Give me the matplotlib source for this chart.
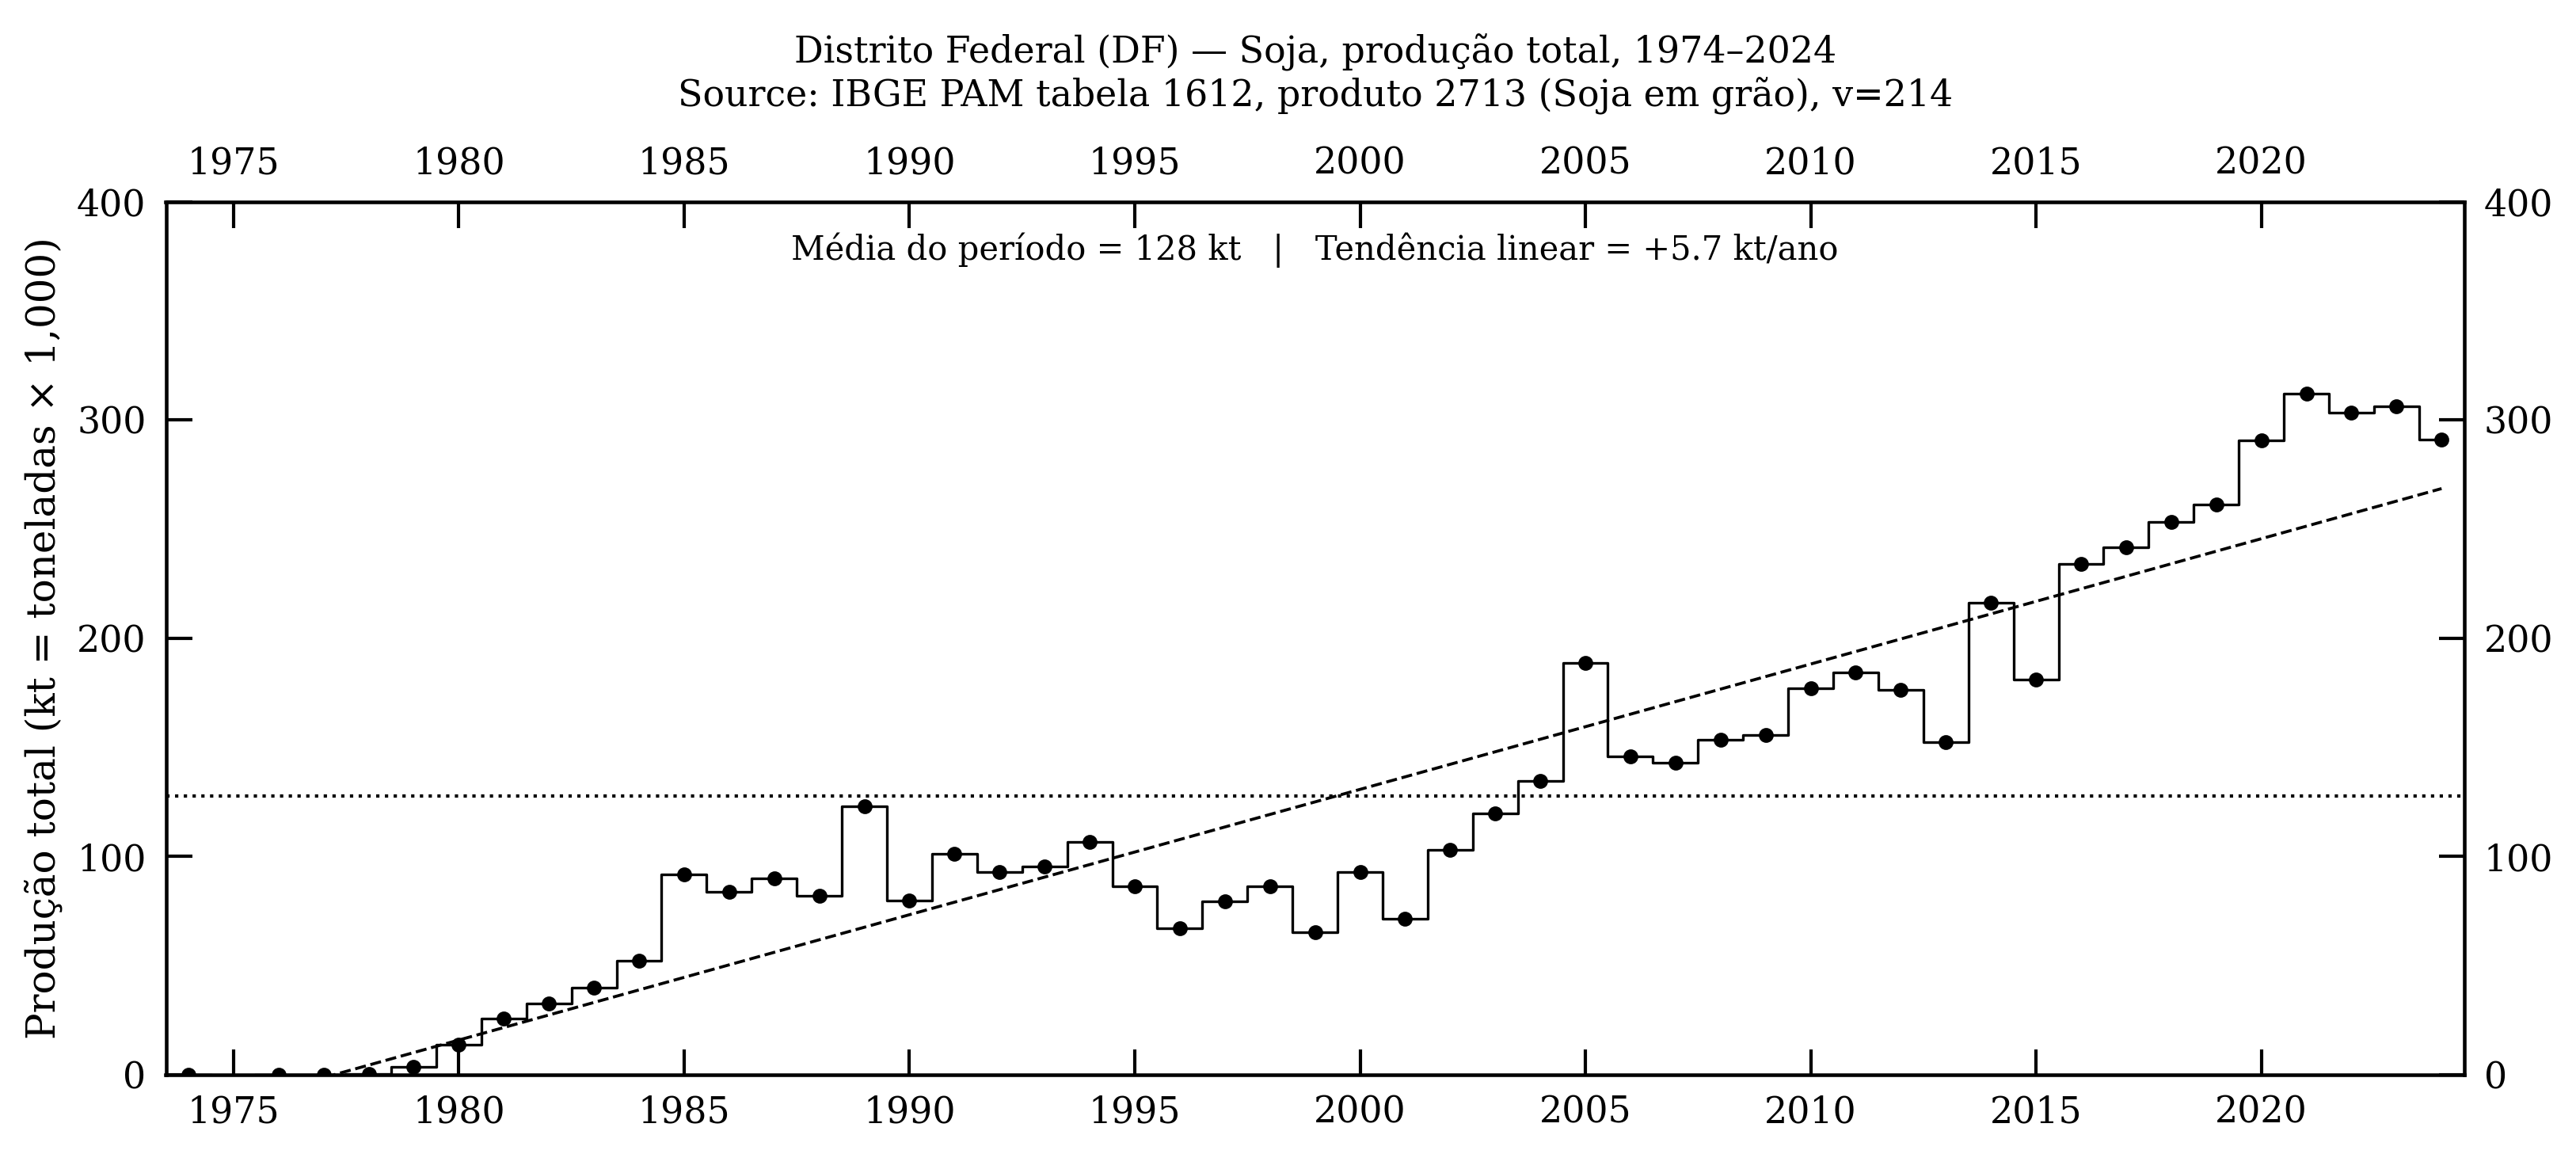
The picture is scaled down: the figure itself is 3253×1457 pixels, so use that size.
import numpy as np
import matplotlib
matplotlib.use("Agg")
import matplotlib.pyplot as plt

plt.rcParams['font.family'] = ['DejaVu Serif']

years = list(range(1974, 2025))
producao_kt = [
    0.0, np.nan, 0.0, 0.0, 0.5, 3.6, 13.8, 25.8, 32.8, 39.9, 52.2,
    91.8, 83.8, 89.9, 82.0, 122.9, 79.7, 101.4, 92.9, 95.5, 106.6,
    86.3, 67.0, 79.5, 86.3, 65.4, 92.7, 71.3, 103.0, 119.7, 134.7,
    188.7, 145.8, 142.9, 153.5, 155.8, 177.0, 184.3, 176.3, 152.3, 216.2,
    180.9, 234.0, 241.6, 253.2, 261.2, 290.7, 312.0, 303.2, 306.2, 291.1,
]
xticks = [1975, 1980, 1985, 1990, 1995, 2000, 2005, 2010, 2015, 2020]
yticks = [0, 100, 200, 300, 400]

title = ("Distrito Federal (DF) — Soja, produção total, 1974–2024\n"
         "Source: IBGE PAM tabela 1612, produto 2713 (Soja em grão), v=214")
ylabel = "Produção total (kt = toneladas × 1,000)"
note = "Média do período = 128 kt   |   Tendência linear = +5.7 kt/ano"

x = np.array(years, dtype=float)
y = np.array(producao_kt, dtype=float)
ok = ~np.isnan(y)
mean_val = np.nanmean(y)
slope, intercept = np.polyfit(x[ok], y[ok], 1)

fig = plt.figure(figsize=(3253 / 300, 1457 / 300), dpi=300)
ax = fig.add_axes([209.5 / 3253, 1 - 1357 / 1457,
                   (3111.7 - 209.5) / 3253, (1357 - 254.5) / 1457])

ax.step(x, y, where='mid', color='black', lw=0.8, zorder=3)
ax.plot(x, y, 'o', color='black', ms=3.5, zorder=4)
ax.axhline(mean_val, color='black', ls=':', lw=1.0, zorder=2)
ax.plot(x, slope * x + intercept, color='black', ls='--', lw=0.9, zorder=2)

ax.set_xlim(1973.5, 2024.5)
ax.set_ylim(0, 400)
ax.set_xticks(xticks)
ax.set_yticks(yticks)
ax.tick_params(which='major', direction='in', length=7.8, width=1.0,
               pad=6, labelsize=11, top=True, right=True,
               labeltop=True, labelright=True)
ax.minorticks_off()
for s in ax.spines.values():
    s.set_linewidth(1.1)

ax.set_ylabel(ylabel, fontsize=12)
ax.set_title(title, fontsize=11, pad=12)
ax.text(0.5, 0.965, note, transform=ax.transAxes, ha='center', va='top',
        fontsize=10)

fig.savefig("out.png", dpi=300)
